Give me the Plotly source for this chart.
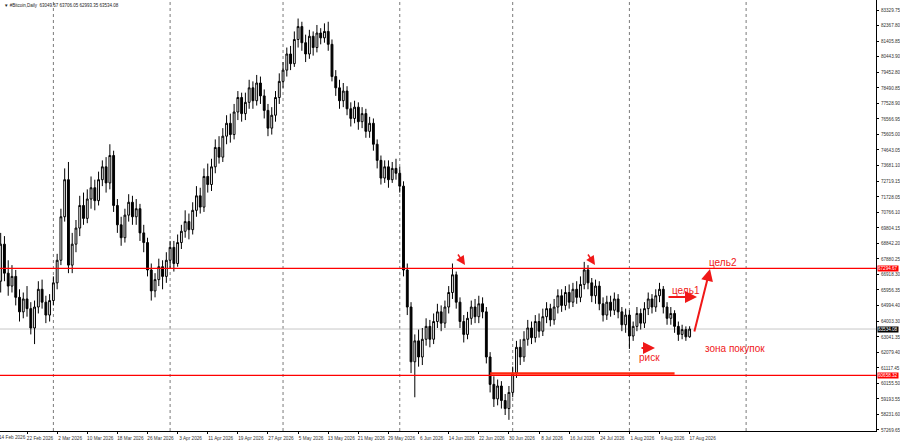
import plotly.graph_objects as go
import pandas as pd

# ---------------- data ----------------
start_date = "2026-02-15"
end_date = "2026-08-17"

opens = [
    66500, 68800, 67000, 66200, 66800, 65500, 64600, 65400, 64800, 63600, 64900, 66000, 65200, 64400,
    65300, 66400, 67800, 70500, 72800, 67500, 68800, 69800, 71200, 70400, 71600, 72300, 71500, 72800, 73600, 72600,
    74300, 71200, 70000, 69200, 70600, 71400, 70500, 71000, 69500, 68900, 67200, 65900, 66600, 67400, 66800,
    67800, 68600, 67600, 68900, 69600, 70200, 69700, 70900, 71800, 71100, 73000, 72500, 73600, 74800, 74200,
    75500, 76300, 75600, 77000, 77900, 76900, 77600, 78500, 77700, 78800, 78000, 77100, 76000, 76800, 77900,
    78900, 79600, 80600, 80000, 81500, 82300, 81300, 80600, 81700, 81000, 81900, 81600, 82000, 81200, 79200,
    78500, 77700, 78300, 77200, 76600, 77300, 76400, 76900, 75800, 76300, 75000, 74000, 72900, 73600, 72800, 73500,
    73200, 72400, 67200, 64900, 61500, 62800, 61800, 62900, 63700, 62900, 64000, 64600, 63900, 64900, 65800,
    66900, 65200, 64000, 63200, 64200, 64900, 64300, 65100, 64600, 61800, 60100, 59200, 60000, 59100, 58600,
    59600, 60800, 62400, 61800, 62900, 63600, 63000, 64000, 63400, 64300, 64800, 64100, 64900, 65600, 65000,
    65800, 65200, 66000, 65500, 66300, 67200, 66400, 65600, 66200, 65100, 64400, 65200, 64700, 65400, 64600, 63800,
    64400, 63100, 63700, 64500, 63900, 64800, 65400, 64900, 65600, 66000, 64900, 64200, 64500, 63700, 63200, 63500,
    63049.67,
]
highs = [
    69500, 69300, 67800, 67500, 67200, 66000, 65800, 66200, 65200, 65300, 66500, 66600, 65600, 65700,
    66800, 68200, 71000, 73500, 73900, 69500, 70300, 71800, 72000, 72200, 73000, 72800, 73300, 74000, 74200, 75000,
    74600, 71600, 70500, 71000, 71900, 71800, 71600, 71300, 70000, 69200, 67600, 67000, 67900, 67800, 68300,
    69000, 69000, 69400, 70000, 70900, 70700, 71400, 72400, 72300, 73500, 73800, 74100, 75300, 75500, 76000,
    76800, 76900, 77500, 78300, 78200, 78200, 79000, 78900, 79300, 79200, 78400, 77500, 77300, 78300, 79400,
    80100, 81000, 81100, 82000, 82800, 82600, 81800, 82100, 82000, 82400, 82200, 82500, 82600, 81500, 79600,
    79000, 78800, 78600, 77600, 77700, 77600, 77300, 77200, 76700, 76600, 75300, 74300, 74000, 74000, 73900, 74100,
    73600, 72700, 67600, 65200, 63200, 63500, 63600, 64200, 64100, 64500, 65100, 65000, 65300, 66200, 67600,
    67100, 65500, 64400, 64600, 65300, 65400, 65600, 65500, 64900, 62100, 60600, 60400, 60300, 59500, 60000,
    61200, 62800, 62900, 63400, 64100, 64000, 64400, 64500, 64800, 65200, 65100, 65400, 66000, 66000, 66200,
    66300, 66400, 66500, 66800, 67700, 67500, 66700, 66600, 66500, 65500, 65600, 65600, 65800, 65700, 64900, 64800,
    64700, 64000, 64900, 64800, 65200, 65800, 65700, 66000, 66400, 66200, 65200, 64900, 64700, 64000, 63800, 63700,
    63706.05,
]
lows = [
    65800, 66500, 65600, 65800, 65000, 64000, 64200, 64300, 63200, 62600, 64500, 64800, 63900, 64000,
    65000, 66000, 67500, 70200, 67000, 67000, 68300, 69300, 70000, 70100, 71000, 70900, 71200, 72400, 72000, 72200,
    70800, 69500, 68700, 68900, 70200, 70000, 70000, 69000, 68300, 66800, 65300, 65500, 66200, 66000, 66400,
    67300, 67100, 67400, 68500, 69200, 69100, 69400, 70500, 70700, 70800, 72000, 72100, 73200, 73800, 73900,
    75000, 75100, 75300, 76500, 76400, 76500, 77200, 77200, 77400, 77500, 76600, 75500, 75600, 76400, 77500,
    78500, 79200, 79600, 79800, 81000, 80800, 80100, 80300, 80500, 80700, 81200, 81300, 80800, 78900, 78000,
    77200, 77300, 76800, 76100, 76300, 75900, 76000, 75400, 75400, 74600, 73500, 72500, 72600, 72300, 72600, 72800,
    72000, 66800, 64400, 60800, 59300, 61200, 61300, 62500, 62400, 62600, 63600, 63400, 63600, 64500, 65400,
    64800, 63600, 62700, 62900, 63800, 63900, 63900, 64200, 61400, 59600, 58700, 58800, 58600, 58200, 57900,
    59300, 60500, 61300, 61500, 62500, 62600, 62700, 63000, 63100, 63900, 63700, 63800, 64500, 64600, 64700,
    64800, 64900, 65100, 65200, 66000, 66000, 65200, 65100, 64700, 64000, 64100, 64300, 64400, 64200, 63400, 63300,
    62300, 62800, 63400, 63500, 63600, 64400, 64500, 64600, 65200, 64500, 63800, 63800, 63300, 62800, 62900, 62800,
    62993.35,
]
closes = [
    68800, 67000, 66200, 66800, 65500, 64600, 65400, 64800, 63600, 64900, 66000, 65200, 64400, 65300,
    66400, 67800, 70500, 72800, 67500, 68800, 69800, 71200, 70400, 71600, 72300, 71500, 72800, 73600, 72600, 74300,
    71200, 70000, 69200, 70600, 71400, 70500, 71000, 69500, 68900, 67200, 65900, 66600, 67400, 66800, 67800,
    68600, 67600, 68900, 69600, 70200, 69700, 70900, 71800, 71100, 73000, 72500, 73600, 74800, 74200, 75500,
    76300, 75600, 77000, 77900, 76900, 77600, 78500, 77700, 78800, 78000, 77100, 76000, 76800, 77900, 78900,
    79600, 80600, 80000, 81500, 82300, 81300, 80600, 81700, 81000, 81900, 81600, 82000, 81200, 79200, 78500,
    77700, 78300, 77200, 76600, 77300, 76400, 76900, 75800, 76300, 75000, 74000, 72900, 73600, 72800, 73500, 73200,
    72400, 67200, 64900, 61500, 62800, 61800, 62900, 63700, 62900, 64000, 64600, 63900, 64900, 65800, 66900,
    65200, 64000, 63200, 64200, 64900, 64300, 65100, 64600, 61800, 60100, 59200, 60000, 59100, 58600, 59600,
    60800, 62400, 61800, 62900, 63600, 63000, 64000, 63400, 64300, 64800, 64100, 64900, 65600, 65000, 65800,
    65200, 66000, 65500, 66300, 67200, 66400, 65600, 66200, 65100, 64400, 65200, 64700, 65400, 64600, 63800, 64400,
    63100, 63700, 64500, 63900, 64800, 65400, 64900, 65600, 66000, 64900, 64200, 64500, 63700, 63200, 63500, 63050,
    63534.08,
]

price_labels = [
    "83329.75", "82367.80", "81405.85", "80443.90", "79452.80", "78490.85", "77528.90",
    "76566.95", "75605.00", "74643.05", "73681.10", "72719.15", "71728.05", "70766.10",
    "69804.15", "68842.20", "67880.25", "66918.30", "65956.35", "64994.40", "64003.30",
    "63041.35", "62079.40", "61117.45", "60155.50", "59193.55", "58231.60", "57269.65",
]
date_tick_vals = [
    "2026-02-22", "2026-03-02", "2026-03-10", "2026-03-18", "2026-03-26",
    "2026-04-03", "2026-04-11", "2026-04-19", "2026-04-27", "2026-05-05", "2026-05-13",
    "2026-05-21", "2026-05-29", "2026-06-06", "2026-06-14", "2026-06-22", "2026-06-30",
    "2026-07-08", "2026-07-16", "2026-07-24", "2026-08-01", "2026-08-09", "2026-08-17",
]
date_tick_text = [
    "22 Feb 2026", "2 Mar 2026", "10 Mar 2026", "18 Mar 2026", "26 Mar 2026",
    "3 Apr 2026", "11 Apr 2026", "19 Apr 2026", "27 Apr 2026", "5 May 2026", "13 May 2026",
    "21 May 2026", "29 May 2026", "6 Jun 2026", "14 Jun 2026", "22 Jun 2026", "30 Jun 2026",
    "8 Jul 2026", "16 Jul 2026", "24 Jul 2026", "1 Aug 2026", "9 Aug 2026", "17 Aug 2026",
]
first_date_text = "14 Feb 2026"   # label of the bar just left of the visible window
month_starts = ["2026-03-01", "2026-04-01", "2026-05-01", "2026-06-01",
                "2026-07-01", "2026-08-01", "2026-09-01"]

resistance_level = 67294.67
support_level = 60658.32
current_price = 63534.08
support_segment = {"x0": "2026-06-25", "x1": "2026-08-13", "y": 60780}
title_text = "▼ #Bitcoin,Daily  63049.67 63706.05 62993.35 63534.08"

# ---------------- figure ----------------
dates = pd.date_range(start_date, end_date, freq="D")
W, H = 900, 441
ML, MR, MT, MB = 0, 24, 0, 10
PW, PH = W - ML - MR, H - MT - MB
FONT = "Liberation Sans"


def px(x):
    return x / PW


def py(y):
    return 1 - y / PH


fig = go.Figure()
fig.add_trace(go.Candlestick(
    x=dates, open=opens, high=highs, low=lows, close=closes,
    increasing=dict(line=dict(color="black", width=1), fillcolor="white"),
    decreasing=dict(line=dict(color="black", width=1), fillcolor="black"),
    whiskerwidth=0, showlegend=False, hoverinfo="skip",
))

shapes = []
for d in month_starts:
    shapes.append(dict(type="line", xref="x", yref="paper", x0=d, x1=d, y0=0, y1=1,
                       line=dict(color="#7a7a7a", width=1, dash="dot"), layer="below"))
shapes.append(dict(type="line", xref="paper", yref="y", x0=0, x1=1,
                   y0=current_price, y1=current_price,
                   line=dict(color="#c8c8c8", width=1), layer="below"))
for lvl in (resistance_level, support_level):
    shapes.append(dict(type="line", xref="paper", yref="y", x0=0, x1=1, y0=lvl, y1=lvl,
                       line=dict(color="#ff0000", width=1.3)))
shapes.append(dict(type="line", xref="x", yref="y",
                   x0=support_segment["x0"], x1=support_segment["x1"],
                   y0=support_segment["y"], y1=support_segment["y"],
                   line=dict(color="#ff2a10", width=2.5)))

red = "#f01818"
annotations = []
# price tags on the axis
for val, bg in ((resistance_level, "#ff0000"), (support_level, "#ff0000"), (current_price, "#000000")):
    annotations.append(dict(xref="paper", yref="y", x=1, y=val, xanchor="left", yanchor="middle",
                            text=f"{val:.2f}", showarrow=False, bgcolor=bg, borderpad=0,
                            font=dict(family=FONT, size=4.6, color="white"), xshift=1))
# first (partly hidden) date label
annotations.append(dict(xref="paper", yref="paper", x=px(-3), y=0, xanchor="left",
                        yanchor="top", yshift=-2, text=first_date_text, showarrow=False,
                        font=dict(family=FONT, size=4.7, color="#333333")))
# title
annotations.append(dict(xref="paper", yref="paper", x=px(2), y=py(1), xanchor="left", yanchor="top",
                        text=title_text, showarrow=False,
                        font=dict(family=FONT, size=4.5, color="#222222")))
# texts
for t, x, y in (("цель2", 707, 262), ("цель1", 670, 290), ("зона покупок", 703, 348), ("риск", 637, 357)):
    annotations.append(dict(xref="paper", yref="paper", x=px(x), y=py(y), xanchor="left",
                            yanchor="middle", text=t, showarrow=False,
                            font=dict(family=FONT, size=10, color=red)))
# arrows (head position, tail position)
for hx, hy, tx, ty, w in ((697, 297, 667, 297, 2), (710, 269, 694, 333, 2), (655, 348, 640, 348, 2),
                          (465, 265, 457, 253, 1.5), (595, 265, 587, 253, 1.5)):
    annotations.append(dict(xref="paper", yref="paper", x=px(hx), y=py(hy),
                            ax=tx - hx, ay=ty - hy, axref="pixel", ayref="pixel",
                            text="", showarrow=True, arrowhead=2, arrowsize=1.2,
                            arrowwidth=w, arrowcolor=red))

fig.update_layout(
    width=W, height=H,
    margin=dict(l=ML, r=MR, t=MT, b=MB, pad=0),
    paper_bgcolor="white", plot_bgcolor="white",
    shapes=shapes, annotations=annotations,
    showlegend=False,
    xaxis=dict(
        type="date", range=["2026-02-14 19:40", "2026-10-05 12:00"],
        rangeslider=dict(visible=False),
        tickmode="array", tickvals=date_tick_vals, ticktext=date_tick_text,
        ticks="outside", ticklen=2, tickcolor="black", tickwidth=1, tickangle=0,
        ticklabelshift=13, ticklabelstandoff=0,
        tickfont=dict(family=FONT, size=4.7, color="#333333"),
        showgrid=False, zeroline=False, showline=True, linecolor="black", linewidth=1,
        fixedrange=True,
    ),
    yaxis=dict(
        side="right", range=[57207, 83950],
        tickmode="array", tickvals=[float(v) for v in price_labels], ticktext=price_labels,
        ticks="outside", ticklen=2, tickcolor="black", tickwidth=1,
        ticklabelstandoff=1,
        tickfont=dict(family=FONT, size=4.6, color="#333333"),
        showgrid=False, zeroline=False, showline=True, linecolor="black", linewidth=1,
        fixedrange=True,
    ),
)

fig.write_html(
    "out.html",
    config={"displayModeBar": False, "staticPlot": True},
    post_script="document.body.style.margin='0px';document.body.style.overflow='hidden';"
                "document.documentElement.style.overflow='hidden';",
)
